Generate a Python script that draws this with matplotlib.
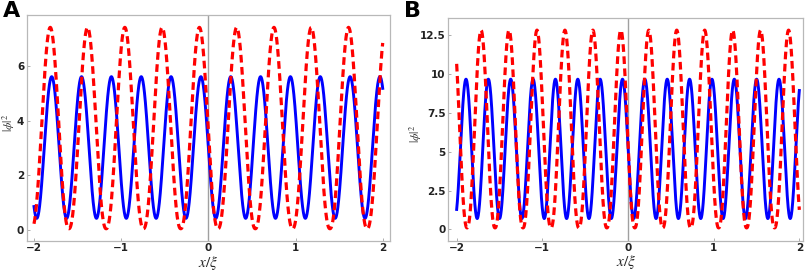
import numpy as np
import matplotlib
matplotlib.use("Agg")
import matplotlib.pyplot as plt

plt.rcParams["mathtext.fontset"] = "stix"

# values
panel_labels = ["A", "B"]
x_ticks = [-2, -1, 0, 1, 2]
y_ticks = [[0, 2, 4, 6], [0, 2.5, 5, 7.5, 10, 12.5]]
y_tick_labels = [["0", "2", "4", "6"], ["0", "2.5", "5", "7.5", "10", "12.5"]]

# blue solid curve: first peak position, period, (min, max)
blue_first_peak = [-1.797, -1.891]
blue_period = [0.3423, 0.2610]
blue_range = [(0.43, 5.6), (0.70, 9.65)]

# red dashed curve: first peak position, period, (min, max)
red_first_peak = [-1.8135, -1.715]
red_period = [0.4277, 0.3263]
red_range = [(0.05, 7.4), (0.10, 12.8)]

xlims = [(-2.08, 2.083), (-2.098, 2.043)]
ylims = [(-0.38, 7.85), (-0.71, 13.58)]
axes_rects = [[0.0334, 0.1125, 0.4486, 0.832], [0.5541, 0.1125, 0.4385, 0.8211]]
letter_x = [0.003, 0.500]
ylabel_pos = [(-0.051, 0.52), (-0.090, 0.48)]


def wave(x, first_peak, period, lo, hi, p):
    c = 0.5 * (1 + np.cos(2 * np.pi * (x - first_peak) / period))
    return lo + (hi - lo) * c ** p


fig = plt.figure(figsize=(8.09, 2.71), dpi=100)
x = np.linspace(-2, 2, 3000)

for i in range(2):
    ax = fig.add_axes(axes_rects[i])
    ax.axvline(0, color="#a0a0a0", lw=1.0, zorder=1)

    red = wave(x, red_first_peak[i], red_period[i], *red_range[i], 1.15)
    blue = wave(x, blue_first_peak[i], blue_period[i], *blue_range[i], 1.0)
    ax.plot(x, red, color="#ff0000", lw=2.3, dashes=(2.4, 1.4),
            solid_capstyle="butt", dash_capstyle="butt", zorder=3)
    ax.plot(x, blue, color="#0000ff", lw=2.1, zorder=2)

    ax.set_xlim(*xlims[i])
    ax.set_ylim(*ylims[i])
    ax.set_xticks(x_ticks)
    ax.set_xticklabels(["\u22122", "\u22121", "0", "1", "2"])
    ax.set_yticks(y_ticks[i])
    ax.set_yticklabels(y_tick_labels[i])
    ax.tick_params(direction="in", length=2.5, width=0.6, color="#a0a0a0",
                   labelsize=7.5, labelcolor="#222222", pad=2)
    for lab in ax.get_xticklabels() + ax.get_yticklabels():
        lab.set_fontweight("bold")
    for sp in ax.spines.values():
        sp.set_color("#b8b8b8")
        sp.set_linewidth(0.9)

    ax.set_xlabel(r"$x/\xi$", fontsize=11, color="#222222")
    ax.xaxis.set_label_coords(0.5, -0.058)
    ax.set_ylabel(r"$|\phi|^2$", fontsize=8.5, color="#333333", va="center")
    ax.yaxis.set_label_coords(*ylabel_pos[i])

    fig.text(letter_x[i], 0.997, panel_labels[i], fontsize=16, fontweight="bold",
             ha="left", va="top")

fig.savefig("out.png", dpi=100)
